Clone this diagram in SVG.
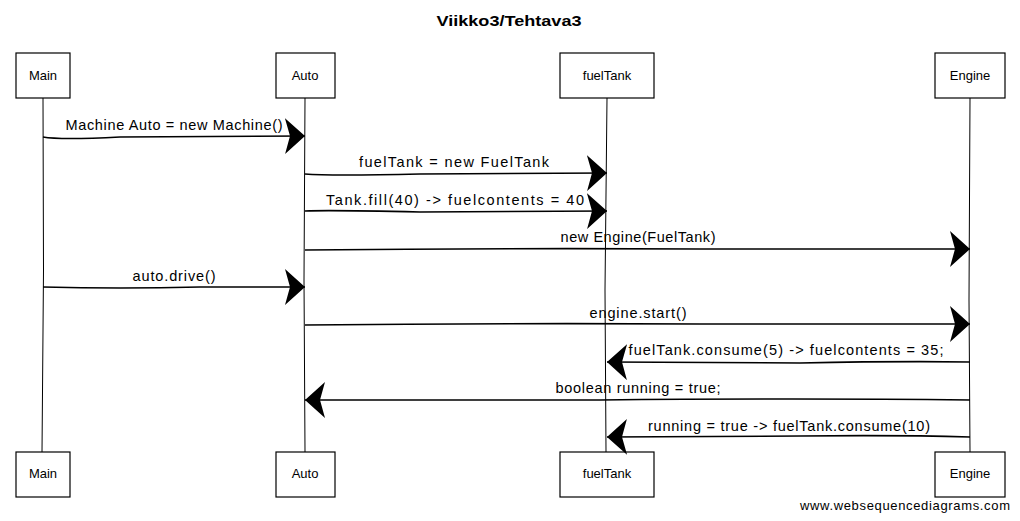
<svg xmlns="http://www.w3.org/2000/svg" width="1020" height="521" viewBox="0 0 1020 521">
<style>
.box{fill:#fff;stroke:#000;stroke-width:1.2}
.life{fill:none;stroke:#000;stroke-width:1}
.msg{fill:none;stroke:#000;stroke-width:1.6}
.t{font-family:"Liberation Sans",Arial,sans-serif;font-size:13px;fill:#000}
.lbl{font-family:"Liberation Sans",Arial,sans-serif;font-size:14.5px;fill:#000;text-anchor:middle}
.title{font-family:"Liberation Sans",Arial,sans-serif;font-size:15px;font-weight:bold;text-anchor:middle}
</style>
<defs>
<marker id="ar" markerUnits="userSpaceOnUse" markerWidth="24" markerHeight="40" refX="20" refY="18" orient="auto" viewBox="0 0 24 40">
<path d="M0,0 L20,18 L0,36 L5,18 Z" fill="#000"/>
</marker>
</defs>
<rect width="1020" height="521" fill="#fff"/>
<text class="title" x="509" y="26" textLength="145" lengthAdjust="spacingAndGlyphs">Viikko3/Tehtava3</text>

<g id="lifelines">
<path class="life" d="M43,98 L43.5,270 L42,452"/>
<path class="life" d="M305,98 L304,280 L305,452"/>
<path class="life" d="M607,98 L605,290 L606,452"/>
<path class="life" d="M970,98 L969,300 L970,452"/>
</g>

<g id="main-top"><rect class="box" x="16" y="53" width="54" height="45"/><text class="t" x="43" y="80" text-anchor="middle">Main</text></g>
<g id="auto-top"><rect class="box" x="276" y="53" width="59" height="45"/><text class="t" x="305" y="80" text-anchor="middle">Auto</text></g>
<g id="fueltank-top"><rect class="box" x="560" y="53" width="94" height="45"/><text class="t" x="607" y="80" text-anchor="middle">fuelTank</text></g>
<g id="engine-top"><rect class="box" x="935" y="53" width="70" height="45"/><text class="t" x="970" y="80" text-anchor="middle">Engine</text></g>

<g id="main-bottom"><rect class="box" x="16" y="452" width="54" height="45"/><text class="t" x="43" y="478" text-anchor="middle">Main</text></g>
<g id="auto-bottom"><rect class="box" x="276" y="452" width="59" height="45"/><text class="t" x="305" y="478" text-anchor="middle">Auto</text></g>
<g id="fueltank-bottom"><rect class="box" x="560" y="452" width="94" height="45"/><text class="t" x="607" y="478" text-anchor="middle">fuelTank</text></g>
<g id="engine-bottom"><rect class="box" x="935" y="452" width="70" height="45"/><text class="t" x="970" y="478" text-anchor="middle">Engine</text></g>

<g id="connectors">
<path class="msg" d="M43,137 Q60,140 120,137 L305,136" marker-end="url(#ar)"/>
<text class="lbl" x="174" y="130" textLength="217">Machine Auto = new Machine()</text>

<path class="msg" d="M305,174 Q330,176 420,174 L607,173" marker-end="url(#ar)"/>
<text class="lbl" x="454" y="167" textLength="190">fuelTank = new FuelTank</text>

<path class="msg" d="M305,211 Q330,210 420,212 L607,211" marker-end="url(#ar)"/>
<text class="lbl" x="455" y="205" textLength="258">Tank.fill(40) -&gt; fuelcontents = 40</text>

<path class="msg" d="M305,250 Q500,248 700,249 L970,249" marker-end="url(#ar)"/>
<text class="lbl" x="638" y="242" textLength="155">new Engine(FuelTank)</text>

<path class="msg" d="M43,287 Q120,289 200,287 L305,287" marker-end="url(#ar)"/>
<text class="lbl" x="174" y="281" textLength="83">auto.drive()</text>

<path class="msg" d="M305,325 Q500,323 700,324 L970,324" marker-end="url(#ar)"/>
<text class="lbl" x="638" y="318" textLength="97">engine.start()</text>

<path class="msg" d="M970,362 Q900,361 800,363 L607,362" marker-end="url(#ar)"/>
<text class="lbl" x="786" y="355" textLength="315">fuelTank.consume(5) -&gt; fuelcontents = 35;</text>

<path class="msg" d="M970,400 Q800,398 600,400 L305,400" marker-end="url(#ar)"/>
<text class="lbl" x="638" y="393" textLength="165">boolean running = true;</text>

<path class="msg" d="M970,437 Q900,435 800,436 L607,437" marker-end="url(#ar)"/>
<text class="lbl" x="789" y="431" textLength="282">running = true -&gt; fuelTank.consume(10)</text>
</g>

<text class="t" x="1010" y="510" text-anchor="end" font-size="14" textLength="210">www.websequencediagrams.com</text>
</svg>
